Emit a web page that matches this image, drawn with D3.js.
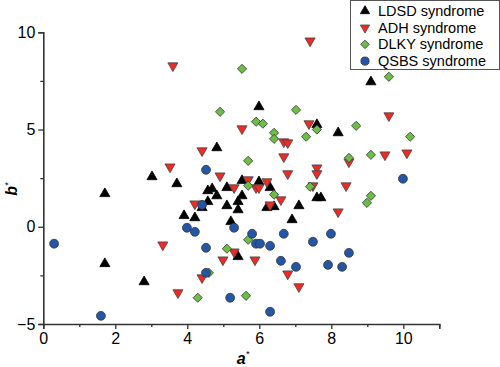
<!DOCTYPE html>
<html>
<head>
<meta charset="utf-8">
<script src="https://cdn.jsdelivr.net/npm/d3@7"></script>
<style>
  html, body { margin: 0; padding: 0; background: #fff; }
  svg { display: block; font-family: "Liberation Sans", Arial, sans-serif; }
</style>
</head>
<body>
<svg id="chart" width="500" height="367"></svg>
<script>
// scatter of a* vs b* by syndrome

const seriesNames = ['LDSD syndrome', 'ADH syndrome', 'DLKY syndrome', 'QSBS syndrome'];

const ldsd = [
  [1.71, 1.70], [1.71, -1.90], [2.80, -2.83], [3.02, 2.57], [3.71, 2.21],
  [3.91, 0.57], [4.21, 0.46], [4.41, 0.98], [4.57, 1.29], [4.57, 1.85],
  [4.69, 1.95], [4.82, 1.59], [5.10, 2.01], [5.10, 1.08], [5.41, 1.29],
  [5.41, 0.87], [5.52, 1.59], [5.52, 2.37], [5.21, 0.26], [5.41, -1.54],
  [4.82, 4.06], [5.99, 6.17], [5.99, 2.31], [6.30, 2.01], [6.21, 0.98],
  [6.41, 1.03], [7.10, 1.08], [6.91, 0.36], [7.60, 1.49], [7.71, 1.49],
  [7.60, 5.25], [8.19, 4.83], [9.10, 7.45]
];

const adh = [
  [3.60, 8.28], [3.52, 3.08], [4.41, 3.91], [4.91, 2.62], [5.30, 2.01],
  [5.52, 5.04], [5.69, 2.42], [7.41, 9.56], [9.60, 5.71], [7.38, 5.30],
  [6.68, 4.37], [6.79, 4.32], [6.68, 3.60], [6.79, 2.73], [7.60, 3.03],
  [7.60, 2.73], [8.49, 3.34], [9.49, 3.70], [10.10, 3.80], [8.41, 2.11],
  [7.49, 2.11], [6.21, 2.32], [5.91, 2.01], [5.99, 2.01], [6.60, 1.39],
  [6.30, 1.13], [4.21, 1.18], [5.30, -1.29], [4.99, -1.70], [5.88, -1.70],
  [4.41, -2.62], [6.79, -2.42], [7.10, -3.08], [3.74, -3.39], [3.32, -0.93],
  [8.19, 0.77]
];

const dlky = [
  [5.52, 8.12], [4.91, 5.91], [5.91, 5.40], [6.10, 5.30], [7.02, 6.01],
  [6.41, 4.83], [6.41, 4.52], [7.30, 4.63], [5.69, 3.39], [9.60, 7.71],
  [7.60, 5.00], [8.69, 5.19], [10.19, 4.63], [9.10, 3.70], [8.49, 3.54],
  [7.41, 2.06], [6.41, 1.65], [5.69, 2.11], [9.10, 1.59], [8.99, 1.23],
  [5.69, -0.67], [5.10, -1.13], [4.60, -2.37], [4.29, -3.65], [5.63, -3.55]
];

const qsbs = [
  [0.30, -0.87], [1.60, -4.58], [3.99, -0.05], [4.21, -0.26], [4.41, 1.13],
  [4.52, -1.08], [4.52, -2.37], [5.19, -3.65], [5.30, -0.05], [4.52, 2.93],
  [5.80, -0.36], [5.91, -0.87], [6.02, -0.87], [6.30, -0.98], [6.68, -0.36],
  [6.60, -1.75], [7.02, -2.06], [6.30, -4.37], [9.99, 2.47], [7.49, -0.77],
  [7.99, -0.36], [8.49, -1.34], [7.91, -1.96], [8.30, -2.06]
];

const xTicks = [0, 2, 4, 6, 8, 10];
const xMinor = [1, 3, 5, 7, 9, 11];
const yTicks = [-5, 0, 5, 10];
const yMinor = [-2.5, 2.5, 7.5];

const svg = d3.select('#chart');
const axisColor = '#333';

const x = d3.scaleLinear().domain([0, 11]).range([43.3, 439.3]);
const y = d3.scaleLinear().domain([-5, 10]).range([324, 32.3]);

// marker styles per series
const styles = [
  {data: ldsd, type: d3.symbolTriangle, size: 44, rot: 0, fill: '#000', stroke: '#000'},
  {data: adh, type: d3.symbolTriangle, size: 44, rot: 180, fill: '#ee2a24', stroke: '#444'},
  {data: dlky, type: d3.symbolSquare, size: 42, rot: 45, fill: '#6cbf45', stroke: '#3a3a3a'},
  {data: qsbs, type: d3.symbolCircle, size: 62, rot: 0, fill: '#2356a6', stroke: '#333'}
];

// axes
const xAxis = d3.axisBottom(x).tickValues(xTicks).tickSize(5).tickPadding(4).tickFormat(d3.format('d'));
const yAxis = d3.axisLeft(y).tickValues(yTicks).tickSize(5).tickPadding(3)
  .tickFormat(d => d < 0 ? '\u2212' + Math.abs(d) : d);

svg.append('g').attr('transform', `translate(0,${y(-5)})`).call(xAxis);
svg.append('g').attr('transform', `translate(${x(0)},0)`).call(yAxis);

svg.append('g').attr('transform', `translate(0,${y(-5)})`)
  .call(d3.axisBottom(x).tickValues(xMinor).tickSize(3).tickFormat(''))
  .select('.domain').remove();
svg.append('g').attr('transform', `translate(${x(0)},0)`)
  .call(d3.axisLeft(y).tickValues(yMinor).tickSize(3).tickFormat(''))
  .select('.domain').remove();

svg.selectAll('.domain').attr('stroke', axisColor).attr('stroke-width', 1.6);
svg.selectAll('.tick line').attr('stroke', axisColor).attr('stroke-width', 1.3);
svg.selectAll('.tick text').attr('fill', '#000').style('font-size', '16px')
  .style('font-family', '"Liberation Sans", Arial, sans-serif');

// axis titles
const xt = svg.append('text').attr('x', 243).attr('y', 364)
  .attr('text-anchor', 'middle').style('font-size', '16px').style('font-weight', 'bold').style('font-style', 'italic');
xt.append('tspan').text('a');
xt.append('tspan').text('*').attr('dy', -7).style('font-size', '9px').style('font-weight', 'normal');

const yt = svg.append('text').attr('transform', 'translate(17,189) rotate(-90)')
  .attr('text-anchor', 'middle').style('font-size', '16px').style('font-weight', 'bold').style('font-style', 'italic');
yt.append('tspan').text('b');
yt.append('tspan').text('*').attr('dy', -6).style('font-size', '9px').style('font-weight', 'normal');

// points
const symbol = d3.symbol();
styles.forEach(s => {
  svg.append('g').selectAll('path')
    .data(s.data)
    .join('path')
    .attr('d', symbol.type(s.type).size(s.size)())
    .attr('transform', d => `translate(${x(d[0])},${y(d[1])}) rotate(${s.rot})`)
    .attr('fill', s.fill)
    .attr('stroke', s.stroke)
    .attr('stroke-width', 0.8);
});

// legend
const lg = svg.append('g').attr('transform', 'translate(350,0)');
lg.append('rect').attr('x', 0.5).attr('y', 0.5).attr('width', 149).attr('height', 69)
  .attr('fill', '#fff').attr('stroke', '#555').attr('stroke-width', 1);
styles.forEach((s, i) => {
  const cy = 11 + i * 16.7;
  lg.append('path')
    .attr('d', d3.symbol().type(s.type).size(s.size * 0.85)())
    .attr('transform', `translate(15,${cy}) rotate(${s.rot})`)
    .attr('fill', s.fill).attr('stroke', s.stroke).attr('stroke-width', 0.8);
  lg.append('text').attr('x', 28).attr('y', cy + 5)
    .style('font-size', '14.5px').text(seriesNames[i]);
});
</script>
</body>
</html>
